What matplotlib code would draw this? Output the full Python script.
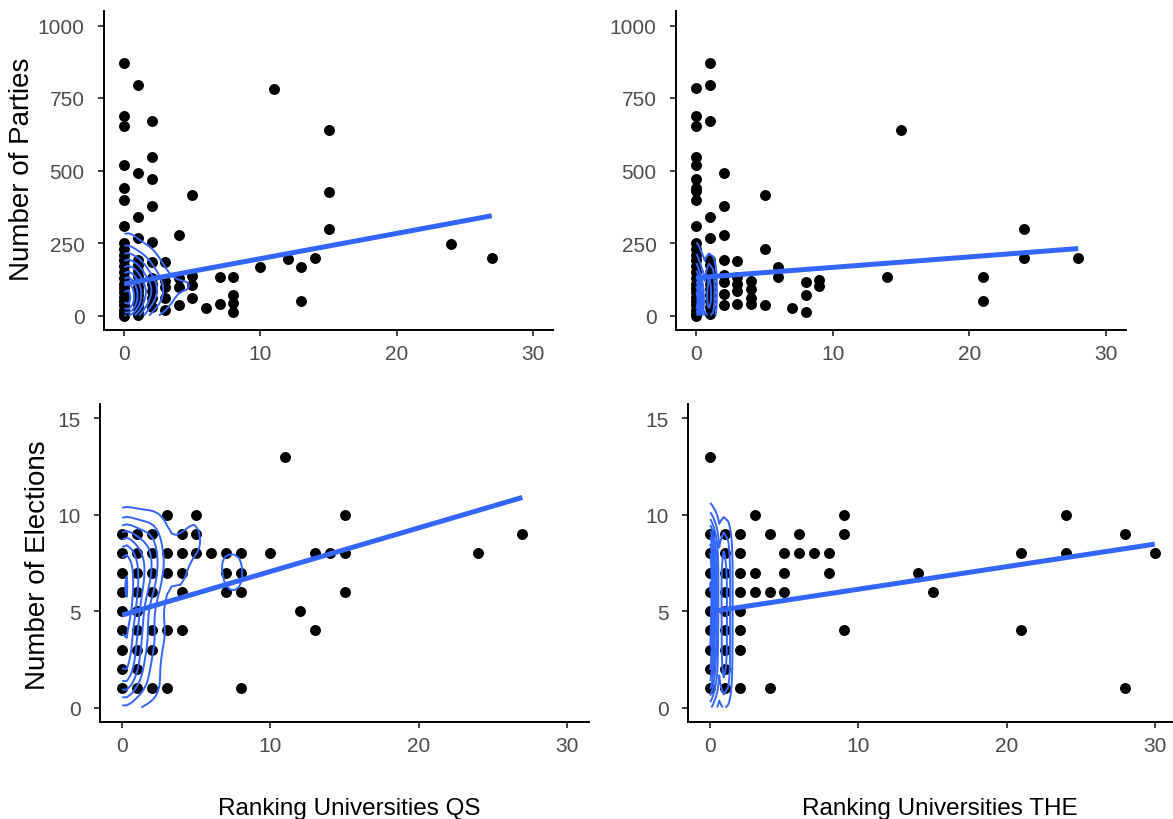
import numpy as np
import matplotlib
matplotlib.use("Agg")
import matplotlib.pyplot as plt
from matplotlib.ticker import MaxNLocator

plt.rcParams['font.family'] = ['Liberation Sans', 'DejaVu Sans']

# ---------------- data ----------------
# Each panel: x (ranking count), y (value), n (number of overlapping observations at that point)

# Top-left: Number of Parties vs Ranking Universities QS
qs_par_x = [0]*23 + [1]*17 + [2]*11 + [3]*5 + [4]*4 + [5]*4 + [6] + [7]*2 + [8]*4 + \
           [10, 11, 12, 13, 13, 14, 15, 15, 15, 24, 27]
qs_par_y = [870, 687, 655, 520, 438, 397, 310, 250, 230, 210, 190, 170, 150, 130, 110, 95, 80, 65, 50, 35, 20, 10, 0] + \
           [794, 492, 341, 267, 193, 175, 155, 135, 115, 100, 85, 70, 55, 40, 25, 10, 2] + \
           [671, 546, 472, 376, 252, 186, 130, 110, 85, 60, 30] + \
           [186, 120, 97, 60, 20] + \
           [277, 130, 100, 35] + \
           [416, 136, 104, 61] + \
           [26] + \
           [132, 38] + \
           [132, 72, 44, 13] + \
           [167, 782, 194, 168, 51, 197, 641, 426, 297, 245, 199]
qs_par_n = [1]*7 + [1, 1, 2, 2, 2, 3, 3, 4, 4, 4, 4, 4, 4, 4, 3, 3] + \
           [1, 1, 1, 1] + [2]*13 + \
           [1, 1, 1, 1, 1, 2, 2, 2, 3, 2, 2] + [1]*5 + [1]*4 + [1]*4 + [1] + [1]*2 + [1]*4 + [1]*11

# Top-right: Number of Parties vs Ranking Universities THE
the_par_x = [0]*26 + [1]*16 + [2]*8 + [3]*5 + [4]*4 + [5]*3 + [6]*2 + [7] + [8]*3 + [9]*2 + \
            [14, 15, 21, 21, 24, 24, 28]
the_par_y = [783, 687, 655, 547, 520, 472, 438, 428, 397, 310, 250, 230, 210, 190, 170, 150, 130, 110, 95, 80, 65, 50, 35, 20, 10, 0] + \
            [871, 795, 671, 341, 267, 190, 175, 150, 130, 110, 90, 70, 50, 30, 10, 5] + \
            [492, 376, 279, 191, 140, 115, 75, 35] + \
            [187, 134, 110, 83, 38] + \
            [118, 90, 60, 38] + \
            [416, 230, 35] + \
            [168, 133] + \
            [26] + \
            [115, 72, 13] + \
            [121, 103] + \
            [132, 641, 132, 51, 297, 197, 199]
the_par_n = [1]*10 + [1, 1, 2, 2, 3, 3, 4, 5, 5, 6, 6, 6, 6, 6, 6, 5] + \
            [1, 1, 1, 1, 1, 2, 2, 3, 3, 3, 3, 3, 3, 3, 3, 2] + \
            [1]*8 + [1]*5 + [1]*4 + [1]*3 + [1]*2 + [1] + [1]*3 + [1]*2 + [1]*7

# Bottom-left: Number of Elections vs Ranking Universities QS
qs_el_x = [0]*9 + [1]*9 + [2, 2, 2, 2, 2, 2, 2] + [3, 3, 3, 3, 3] + [4, 4, 4, 4, 4] + [5, 5, 5] + [6] + \
          [7, 7, 7] + [8, 8, 8, 8] + [10, 11, 12, 13, 13, 14, 15, 15, 15, 24, 27]
qs_el_y = list(range(1, 10)) + list(range(1, 10)) + [9, 8, 7, 6, 4, 3, 1] + [10, 8, 7, 4, 1] + \
          [9, 8, 7, 6, 4] + [10, 9, 8] + [8] + [8, 7, 6] + [8, 7, 6, 1] + \
          [8, 13, 5, 8, 4, 8, 10, 8, 6, 8, 9]
qs_el_n = [5, 6, 6, 6, 7, 7, 7, 7, 4] + [2, 3, 3, 3, 4, 4, 4, 4, 3] + [3, 3, 3, 3, 2, 2, 2] + [1]*5 + \
          [1]*5 + [1]*3 + [1] + [1]*3 + [1]*4 + [1]*11

# Bottom-right: Number of Elections vs Ranking Universities THE
the_el_x = [0]*10 + [1]*9 + [2]*8 + [3, 3, 3] + [4, 4, 4] + [5, 5, 5] + [6, 6] + [7] + [8, 8] + \
           [9, 9, 9] + [14, 15, 21, 21, 24, 24, 28, 28, 30]
the_el_y = list(range(1, 10)) + [13] + list(range(1, 10)) + [9, 8, 7, 6, 5, 4, 3, 1] + [10, 7, 6] + \
           [9, 6, 1] + [8, 7, 6] + [9, 8] + [8] + [8, 7] + [10, 9, 4] + [7, 6, 8, 4, 10, 8, 9, 1, 8]
the_el_n = [8, 8, 9, 9, 10, 10, 10, 10, 8, 1] + [4, 4, 4, 4, 4, 4, 4, 4, 3] + [1]*8 + [1]*3 + [1]*3 + \
           [1]*3 + [1]*2 + [1] + [1]*2 + [1]*3 + [1]*9

# linear fit coefficients (intercept, slope)
fit_qs_par = (109, 8.7)
fit_the_par = (130, 3.6)
fit_qs_el = (4.8, 0.226)
fit_the_el = (4.97, 0.117)

x_ticks = [0, 10, 20, 30]
par_ticks = [0, 250, 500, 750, 1000]
el_ticks = [0, 5, 10, 15]

BLUE = "#3366FF"
W, H = 1173, 820


def bw_nrd(v):
    q1, q3 = np.percentile(v, [25, 75])
    h = (q3 - q1) / 1.34
    s = np.std(v, ddof=1)
    m = min(s, h) if h > 0 else s
    return 4 * 1.06 * m * len(v) ** (-0.2)


def kde2d(x, y, n, xlim, ylim, ngrid=100):
    xe = np.repeat(np.asarray(x, float), n)
    ye = np.repeat(np.asarray(y, float), n)
    hx = bw_nrd(xe) / 4
    hy = bw_nrd(ye) / 4
    gx = np.linspace(xlim[0], xlim[1], ngrid)
    gy = np.linspace(ylim[0], ylim[1], ngrid)
    ax_ = np.exp(-0.5 * ((gx[:, None] - xe[None, :]) / hx) ** 2) / np.sqrt(2 * np.pi)
    ay_ = np.exp(-0.5 * ((gy[:, None] - ye[None, :]) / hy) ** 2) / np.sqrt(2 * np.pi)
    z = ax_ @ ay_.T / (len(xe) * hx * hy)
    return gx, gy, z.T


def panel(rect, x, y, n, fit, ylim, yticks):
    ax = fig.add_axes(rect)
    xs = np.asarray(x, float)
    ys = np.asarray(y, float)
    ax.scatter(xs, ys, s=62, color="black", linewidths=0, zorder=2)
    gx, gy, z = kde2d(x, y, n, (0, 30), ylim)
    levels = MaxNLocator(nbins=10).tick_values(z.min(), z.max())
    levels = levels[(levels > z.min()) & (levels < z.max())]
    ax.contour(gx, gy, z, levels=levels, colors=BLUE, linewidths=1.4, zorder=3)
    lx = np.array([xs.min(), xs.max()])
    ax.plot(lx, fit[0] + fit[1] * lx, color=BLUE, lw=3.6, zorder=4, solid_capstyle="butt")
    pad = 0.05 * (ylim[1] - ylim[0])
    ax.set_xlim(-1.5, 31.5)
    ax.set_ylim(ylim[0] - pad, ylim[1] + pad)
    ax.set_xticks(x_ticks)
    ax.set_yticks(yticks)
    for sp in ["top", "right"]:
        ax.spines[sp].set_visible(False)
    for sp in ["left", "bottom"]:
        ax.spines[sp].set_linewidth(1.4)
        ax.spines[sp].set_color("black")
    ax.tick_params(length=4, width=1.3, color="#333333", labelcolor="#4D4D4D", labelsize=15, pad=6)
    ax.tick_params(axis="y", pad=10)
    return ax


fig = plt.figure(figsize=(W / 100, H / 100), dpi=100)

panel([104 / W, 1 - 331 / H, 449 / W, 319 / H], qs_par_x, qs_par_y, qs_par_n, fit_qs_par, (0, 1000), par_ticks)
panel([676 / W, 1 - 331 / H, 450 / W, 319 / H], the_par_x, the_par_y, the_par_n, fit_the_par, (0, 1000), par_ticks)
panel([100 / W, 1 - 723 / H, 489 / W, 318 / H], qs_el_x, qs_el_y, qs_el_n, fit_qs_el, (0, 15), el_ticks)
panel([688 / W, 1 - 723 / H, 489 / W, 318 / H], the_el_x, the_el_y, the_el_n, fit_the_el, (0, 15), el_ticks)

fig.text(22 / W, 1 - 169 / H, "Number of Parties", rotation=90, ha="center", va="center", fontsize=20)
fig.text(38 / W, 1 - 565 / H, "Number of Elections", rotation=90, ha="center", va="center", fontsize=20)
fig.text(349 / W, 1 - 815 / H, "Ranking Universities QS", ha="center", va="baseline", fontsize=17.5)
fig.text(940 / W, 1 - 815 / H, "Ranking Universities THE", ha="center", va="baseline", fontsize=17.5)

fig.savefig("out.png", dpi=100)
